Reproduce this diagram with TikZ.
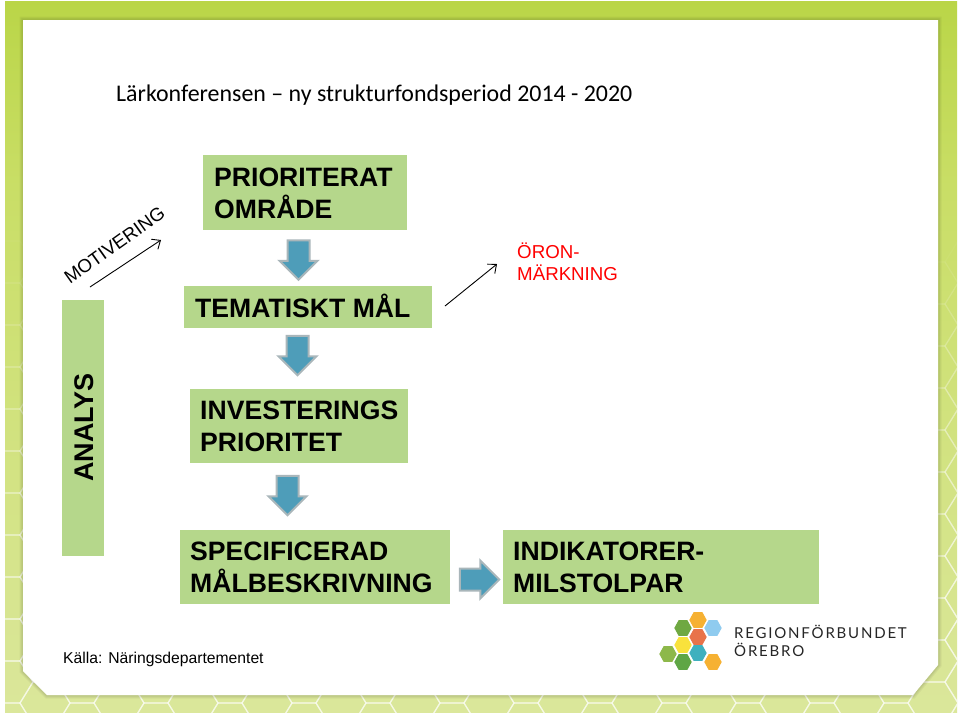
\documentclass[tikz,border=0pt]{standalone}
\usepackage{fontspec}
\setmainfont{Liberation Sans}
\newfontfamily\titlefont{Carlito}
\newfontfamily\logofont[LetterSpace=12]{Lato}
\usetikzlibrary{shapes.arrows,arrows.meta}
\definecolor{lime}{HTML}{B4D23C}
\definecolor{midlime}{HTML}{C9DE66}
\definecolor{palelime}{HTML}{DFE9A8}
\definecolor{boxgreen}{HTML}{B5D78B}
\definecolor{arrowblue}{HTML}{4E9DB9}
\definecolor{arrowgrey}{HTML}{A9B6BA}
\definecolor{hexorange}{HTML}{F6B132}
\definecolor{hexgreen}{HTML}{6FA842}
\definecolor{hexblue}{HTML}{8FCBEF}
\definecolor{hexred}{HTML}{E8734A}
\definecolor{hexyellow}{HTML}{F9E23C}
\definecolor{hexleaf}{HTML}{8DB84A}
\definecolor{hexteal}{HTML}{3FB0BE}
\definecolor{hexdark}{HTML}{5FA645}
\pgfdeclareverticalshading{framefade}{100bp}{color(0bp)=(palelime); color(25bp)=(palelime!80!midlime); color(62bp)=(midlime); color(80bp)=(lime); color(100bp)=(lime)}
\tikzset{
  x=1pt,y=-1pt,
  greenbox/.style={fill=boxgreen,draw=none,inner sep=0pt},
  boxtext/.style={anchor=base west,font=\fontsize{26.6}{32}\selectfont\bfseries,align=left,inner sep=0pt},
  blockarrow/.style={single arrow,fill=arrowblue,draw=arrowgrey,line width=2pt,inner sep=10pt,
    minimum height=39.5pt,single arrow head extend=8pt,
    single arrow tip angle=90},
  thinarrow/.style={draw=black,line width=0.9pt,-{Straight Barb[length=7pt,width=12pt]}},
  hexline/.style={draw=white,line width=1.3pt},
}
\newcommand{\hexat}[3]{\fill[#3] (#1-8.7,#2) -- (#1-4.4,#2-7.8) -- (#1+4.4,#2-7.8) -- (#1+8.7,#2) -- (#1+4.4,#2+7.8) -- (#1-4.4,#2+7.8) -- cycle;}
\begin{document}
\begin{tikzpicture}
\useasboundingbox (0,0) rectangle (960,716);
\fill[white] (0,0) rectangle (960,716);
% frame with vertical fade
\path[shading=framefade] (5,1) rectangle (957,712);
\begin{scope}
\clip (5,230) rectangle (957,712);
\foreach \c in {0,...,26}{\foreach \r in {0,...,11}{
  \pgfmathsetmacro{\hx}{8+\c*37}
  \pgfmathsetmacro{\hy}{262+\r*42+mod(\c,2)*21}
  \pgfmathsetmacro{\hop}{min(0.5,max(0.04,(\hy-230)/800))}
  \draw[hexline,opacity=\hop] (\hx-25,\hy) -- (\hx-12,\hy-21) -- (\hx+12,\hy-21) -- (\hx+25,\hy) -- (\hx+12,\hy+21) -- (\hx-12,\hy+21) -- cycle;
}}
\end{scope}
% panel
\foreach \w/\o in {7/.04,5/.04,3/.05}{
  \draw[black,line width=\w pt,opacity=\o] (23,20) -- (938,20) -- (938,665) -- (913,695) -- (47,695) -- (23,671) -- cycle;
}
\fill[white] (23,20) -- (938,20) -- (938,665) -- (913,695) -- (47,695) -- (23,671) -- cycle;

\node[anchor=base west,inner sep=0pt,font=\titlefont\fontsize{23.9}{26}\selectfont] (title) at (116,101) {Lärkonferensen – ny strukturfondsperiod 2014 - 2020};

% boxes
\path[greenbox] (203,155) rectangle (407,230);
\node[boxtext] (b1) at (214,218) {PRIORITERAT\\OMRÅDE};
\path[greenbox] (184,286) rectangle (432,328);
\node[boxtext] (b2) at (195,317) {TEMATISKT MÅL};
\path[greenbox] (190,389) rectangle (408,463);
\node[boxtext] (b3) at (200,451) {INVESTERINGS\\PRIORITET};
\path[greenbox] (180,530) rectangle (450,604);
\node[boxtext] (b4) at (190,592.5) {SPECIFICERAD\\MÅLBESKRIVNING};
\path[greenbox] (503,530) rectangle (819,604);
\node[boxtext] (b5) at (513,592.5) {INDIKATORER-\\MILSTOLPAR};
\path[greenbox] (62,300) rectangle (104,556);
\node[rotate=90,inner sep=0pt,font=\fontsize{27}{30}\selectfont\bfseries] (analys) at (84.5,427.5) {ANALYS};

% block arrows
\node[blockarrow,shape border rotate=270] (a1) at (298.5,254.5) {};
\node[blockarrow,shape border rotate=270] (a2) at (297.5,350) {};
\node[blockarrow,shape border rotate=270] (a3) at (287.5,490) {};
\node[blockarrow,shape border rotate=0] (a4) at (474,579.5) {};

% thin arrows
\coordinate (m1) at (90,287);
\coordinate (m2) at (161,240);
\draw[thinarrow] (m1) -- (m2);
\node[rotate=35.5,inner sep=0pt,font=\fontsize{18.7}{22}\selectfont] (motiv) at (114.5,245) {MOTIVERING};
\coordinate (o1) at (445,306);
\coordinate (o2) at (497,264);
\draw[thinarrow] (o1) -- (o2);
\node[anchor=west,align=left,inner sep=0pt,text=red,font=\fontsize{18.7}{22}\selectfont] (oron) at (517,262) {ÖRON-\\MÄRKNING};

\node[anchor=base west,inner sep=0pt,font=\fontsize{15.7}{18}\selectfont] (kalla) at (63,663) {Källa: Näringsdepartementet};

% logo
\hexat{698}{620}{fill=hexorange}
\hexat{683}{628}{fill=hexgreen}
\hexat{713}{628}{fill=hexblue}
\hexat{698}{637}{fill=hexred}
\hexat{683}{645}{fill=hexyellow}
\hexat{668}{654}{fill=hexleaf}
\hexat{698}{653}{fill=hexteal}
\hexat{683}{662}{fill=hexdark}
\hexat{713}{662}{fill=hexorange}
\node[anchor=base west,inner sep=0pt,text=black!85,font=\logofont\fontsize{15}{17}\selectfont] (logo1) at (734,638) {REGIONFÖRBUNDET};
\node[anchor=base west,inner sep=0pt,text=black!85,font=\logofont\fontsize{15}{17}\selectfont] (logo2) at (734,656) {ÖREBRO};
\end{tikzpicture}
\end{document}
